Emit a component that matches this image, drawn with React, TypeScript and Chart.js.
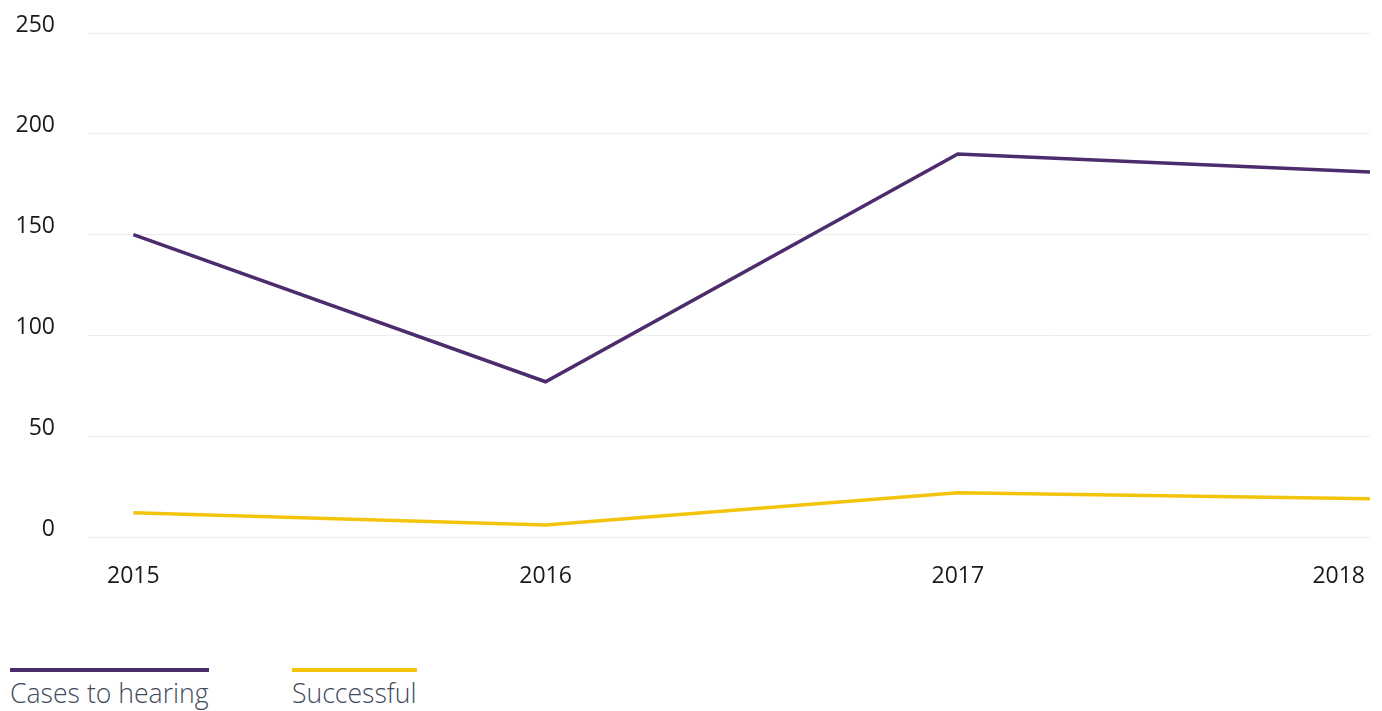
import React, { useEffect, useRef } from "react";
import { Chart, registerables } from "chart.js";

Chart.register(...registerables);

const years = [2015, 2016, 2017, 2018];
const casesToHearing = [150, 77, 190, 181];
const successful = [12, 6, 22, 19];
const yTicks = [0, 50, 100, 150, 200, 250];
const X_MIN = 2014.89;
const X_MAX = 2018;

const PURPLE = "#4b2c6c";
const YELLOW = "#f2c40c";
const FONT = '"Open Sans", "DejaVu Sans", sans-serif';

const xLabelPlugin = {
  id: "xLabels",
  afterDraw(chart: any) {
    const ctx = chart.ctx;
    const xs = chart.scales.x;
    ctx.save();
    ctx.font = `23px ${FONT}`;
    ctx.fillStyle = "#1a1a1a";
    ctx.textAlign = "left";
    ctx.textBaseline = "alphabetic";
    const baseline = chart.chartArea.bottom + 46;
    years.forEach((yr) => {
      const label = String(yr);
      const w = ctx.measureText(label).width;
      let cx = xs.getPixelForValue(yr);
      const maxRight = chart.width - 17;
      if (cx + w / 2 > maxRight) cx = maxRight - w / 2;
      ctx.fillText(label, cx - w / 2, baseline);
    });
    ctx.restore();
  },
};

export default function App() {
  const canvasRef = useRef<HTMLCanvasElement | null>(null);

  useEffect(() => {
    if (!canvasRef.current) return;
    const chart = new Chart(canvasRef.current, {
      type: "line",
      data: {
        datasets: [
          {
            label: "Cases to hearing",
            data: years.map((yr, i) => ({ x: yr, y: casesToHearing[i] })),
            borderColor: PURPLE,
            backgroundColor: PURPLE,
            borderWidth: 3.5,
            pointRadius: 0,
            tension: 0,
            fill: false,
          },
          {
            label: "Successful",
            data: years.map((yr, i) => ({ x: yr, y: successful[i] })),
            borderColor: YELLOW,
            backgroundColor: YELLOW,
            borderWidth: 3.5,
            pointRadius: 0,
            tension: 0,
            fill: false,
          },
        ],
      },
      options: {
        animation: false,
        responsive: true,
        maintainAspectRatio: false,
        layout: { padding: { left: 0, right: 12, top: 33, bottom: 83 } },
        plugins: {
          legend: { display: false },
          tooltip: { enabled: false },
        },
        scales: {
          x: {
            type: "linear",
            min: X_MIN,
            max: X_MAX,
            grid: { display: false, drawTicks: false },
            border: { display: false },
            ticks: { display: false },
          },
          y: {
            min: 0,
            max: 250,
            afterBuildTicks: (scale: any) => {
              scale.ticks = yTicks.map((v) => ({ value: v }));
            },
            afterFit: (scale: any) => {
              scale.width = 88;
              scale.paddingTop = 0;
              scale.paddingBottom = 0;
            },
            grid: { color: "#ededed", lineWidth: 1, drawTicks: false },
            border: { display: false },
            ticks: {
              padding: 33,
              labelOffset: -8,
              color: "#1a1a1a",
              font: { family: FONT, size: 23 },
            },
          },
        },
      },
      plugins: [xLabelPlugin],
    });
    return () => chart.destroy();
  }, []);

  const legendItem = (label: string, color: string, left: number) => (
    <div
      style={{
        position: "absolute",
        left,
        top: 668,
        borderTop: `4px solid ${color}`,
        paddingTop: 3,
        fontFamily: FONT,
        fontWeight: 300,
        fontSize: 26.6,
        lineHeight: "normal",
        color: "#3f4b5c",
        whiteSpace: "nowrap",
      }}
    >
      {label}
    </div>
  );

  return (
    <div
      style={{
        position: "absolute",
        left: 0,
        top: 0,
        width: 1382,
        height: 711,
        overflow: "hidden",
        background: "#ffffff",
      }}
    >
      <div style={{ position: "absolute", left: 0, top: 0, width: 1382, height: 620 }}>
        <canvas ref={canvasRef} />
      </div>
      {legendItem("Cases to hearing", PURPLE, 10)}
      {legendItem("Successful", YELLOW, 292)}
    </div>
  );
}
